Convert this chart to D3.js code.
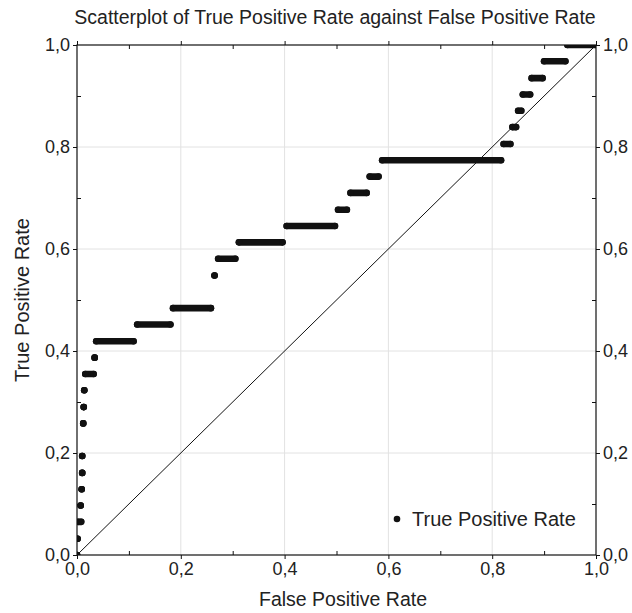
<html>
<head>
<meta charset="utf-8">
<style>
  body { margin: 0; background: #fff; }
  text { font-family: "Liberation Sans", Arial, sans-serif; fill: #222; }
</style>
</head>
<body>
<div id="chart"></div>

<script src="https://cdn.jsdelivr.net/npm/d3@7"></script>
<script>
// ROC points, grouped in horizontal runs: one TPR level, FPR from .. to
var tpr     = [0.000, 0.032, 0.065, 0.097, 0.129, 0.161, 0.194, 0.258, 0.290, 0.323,
               0.355, 0.387, 0.419, 0.452, 0.484, 0.548, 0.581, 0.613, 0.645, 0.677,
               0.710, 0.742, 0.774, 0.806, 0.839, 0.871, 0.903, 0.935, 0.968, 1.000]
var fprFrom = [0.000, 0.001, 0.002, 0.007, 0.009, 0.010, 0.010, 0.012, 0.013, 0.014,
               0.016, 0.034, 0.037, 0.116, 0.185, 0.265, 0.272, 0.312, 0.404, 0.503,
               0.527, 0.564, 0.588, 0.822, 0.839, 0.850, 0.859, 0.876, 0.900, 0.945]
var fprTo   = [0.000, 0.001, 0.008, 0.007, 0.009, 0.010, 0.010, 0.012, 0.013, 0.014,
               0.032, 0.034, 0.109, 0.180, 0.258, 0.265, 0.305, 0.396, 0.497, 0.520,
               0.558, 0.581, 0.817, 0.835, 0.846, 0.856, 0.873, 0.897, 0.941, 1.000]

var majorTicks = [0, 0.2, 0.4, 0.6, 0.8, 1.0]
var minorTicks = [0.1, 0.3, 0.5, 0.7, 0.9]
var gridTicks  = [0.2, 0.4, 0.6, 0.8]

var titleText = "Scatterplot of True Positive Rate against False Positive Rate"
var xLabel = "False Positive Rate"
var yLabel = "True Positive Rate"
var legendText = "True Positive Rate"

var margin = {top: 45, right: 36, bottom: 58, left: 77}
var width = 632 - margin.left - margin.right
var height = 613 - margin.top - margin.bottom

var svg = d3.select("#chart")
  .append("svg")
  .attr("width", 632)
  .attr("height", 613)

var g = svg.append("g")
  .attr("transform", "translate(" + margin.left + "," + margin.top + ")")

var x = d3.scaleLinear().domain([0, 1]).range([0, width])
var y = d3.scaleLinear().domain([0, 1]).range([height, 0])

var locale = d3.formatLocale({decimal: ",", thousands: ".", grouping: [3], currency: ["", ""]})
var fmt = locale.format(".1f")

// grid
g.selectAll(".vgrid").data(gridTicks).enter().append("line")
  .attr("x1", d => x(d)).attr("x2", d => x(d))
  .attr("y1", 0).attr("y2", height)
  .attr("stroke", "#e2e2e2").attr("stroke-width", 1)
g.selectAll(".hgrid").data(gridTicks).enter().append("line")
  .attr("y1", d => y(d)).attr("y2", d => y(d))
  .attr("x1", 0).attr("x2", width)
  .attr("stroke", "#e2e2e2").attr("stroke-width", 1)

// diagonal
g.append("line")
  .attr("x1", x(0)).attr("y1", y(0))
  .attr("x2", x(1)).attr("y2", y(1))
  .attr("stroke", "#111").attr("stroke-width", 1)

// points, clipped to the plot frame
svg.append("defs").append("clipPath").attr("id", "plotclip")
  .append("rect").attr("width", width).attr("height", height)

var runs = tpr.map((t, i) => ({t: t, f0: fprFrom[i], f1: fprTo[i]}))
var pts = g.append("g").attr("clip-path", "url(#plotclip)")
var r = 3.3

pts.selectAll("line").data(runs).enter().append("line")
  .attr("x1", d => x(d.f0)).attr("x2", d => x(d.f1))
  .attr("y1", d => y(d.t)).attr("y2", d => y(d.t))
  .attr("stroke", "#111").attr("stroke-width", 2 * r)
  .attr("stroke-linecap", "round")
pts.selectAll(".a").data(runs).enter().append("circle")
  .attr("cx", d => x(d.f0)).attr("cy", d => y(d.t)).attr("r", r).attr("fill", "#111")
pts.selectAll(".b").data(runs).enter().append("circle")
  .attr("cx", d => x(d.f1)).attr("cy", d => y(d.t)).attr("r", r).attr("fill", "#111")

// axes
function styleAxis(sel) {
  sel.select(".domain").remove()
  sel.selectAll("line").attr("stroke", "#111")
  sel.selectAll("text").style("font-size", "18px").attr("fill", "#222")
}
var noLabel = () => ""

g.append("g").attr("transform", "translate(0," + height + ")")
  .call(d3.axisBottom(x).tickValues(majorTicks).tickFormat(fmt).tickSizeInner(4).tickSizeOuter(0).tickPadding(3))
  .call(styleAxis)
g.append("g").attr("transform", "translate(0," + height + ")")
  .call(d3.axisBottom(x).tickValues(minorTicks).tickFormat(noLabel).tickSizeInner(-4).tickSizeOuter(0))
  .call(styleAxis)
g.append("g")
  .call(d3.axisTop(x).tickValues(majorTicks).tickFormat(noLabel).tickSizeInner(4).tickSizeOuter(0))
  .call(styleAxis)
g.append("g")
  .call(d3.axisTop(x).tickValues(minorTicks).tickFormat(noLabel).tickSizeInner(-4).tickSizeOuter(0))
  .call(styleAxis)
g.append("g")
  .call(d3.axisLeft(y).tickValues(majorTicks).tickFormat(fmt).tickSizeInner(4).tickSizeOuter(0).tickPadding(3))
  .call(styleAxis)
g.append("g")
  .call(d3.axisLeft(y).tickValues(minorTicks).tickFormat(noLabel).tickSizeInner(-4).tickSizeOuter(0))
  .call(styleAxis)
g.append("g").attr("transform", "translate(" + width + ",0)")
  .call(d3.axisRight(y).tickValues(majorTicks).tickFormat(fmt).tickSizeInner(4).tickSizeOuter(0).tickPadding(3))
  .call(styleAxis)
g.append("g").attr("transform", "translate(" + width + ",0)")
  .call(d3.axisRight(y).tickValues(minorTicks).tickFormat(noLabel).tickSizeInner(-4).tickSizeOuter(0))
  .call(styleAxis)

// frame
g.append("rect")
  .attr("width", width).attr("height", height)
  .attr("fill", "none").attr("stroke", "#111").attr("stroke-width", 1.2)

// titles
svg.append("text").attr("x", 335).attr("y", 24)
  .attr("text-anchor", "middle").style("font-size", "19.5px").text(titleText)
svg.append("text").attr("x", 343).attr("y", 606)
  .attr("text-anchor", "middle").style("font-size", "19.5px").text(xLabel)
svg.append("text")
  .attr("transform", "translate(29," + (margin.top + height / 2) + ") rotate(-90)")
  .attr("text-anchor", "middle").style("font-size", "20px").text(yLabel)

// legend
svg.append("circle").attr("cx", 397).attr("cy", 519).attr("r", r).attr("fill", "#111")
svg.append("text").attr("x", 412).attr("y", 526)
  .style("font-size", "20px").text(legendText)
</script>
</body>
</html>
